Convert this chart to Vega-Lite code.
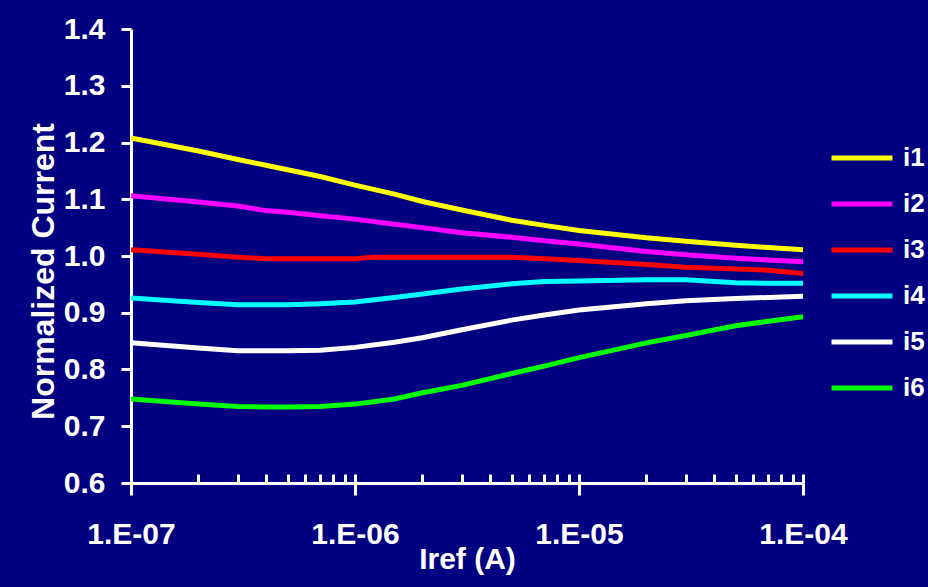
{
  "$schema": "https://vega.github.io/schema/vega-lite/v6.json",
  "width": 672,
  "height": 454,
  "autosize": {"type": "none"},
  "padding": {"left": 131, "top": 29, "right": 125, "bottom": 104},
  "background": "#000080",
  "config": {
    "view": {"stroke": null},
    "font": "Liberation Sans",
    "axis": {
      "grid": false,
      "domainColor": "white",
      "domainWidth": 3,
      "tickColor": "white",
      "tickWidth": 3,
      "labelColor": "white",
      "titleColor": "white",
      "labelFont": "Liberation Sans",
      "titleFont": "Liberation Sans",
      "labelFontWeight": "bold",
      "titleFontWeight": "bold",
      "labelFontSize": 30,
      "titleFontSize": 30,
      "labelFlush": false
    }
  },
  "data": {
    "values": [
      {"x": 1e-7, "s": "i1", "v": 1.208}, {"x": 2e-7, "s": "i1", "v": 1.185}, {"x": 3e-7, "s": "i1", "v": 1.170}, {"x": 4e-7, "s": "i1", "v": 1.160}, {"x": 5e-7, "s": "i1", "v": 1.152}, {"x": 7e-7, "s": "i1", "v": 1.140}, {"x": 1e-6, "s": "i1", "v": 1.125}, {"x": 1.5e-6, "s": "i1", "v": 1.109}, {"x": 2e-6, "s": "i1", "v": 1.096}, {"x": 3e-6, "s": "i1", "v": 1.081}, {"x": 5e-6, "s": "i1", "v": 1.063}, {"x": 7e-6, "s": "i1", "v": 1.054}, {"x": 1e-5, "s": "i1", "v": 1.045}, {"x": 2e-5, "s": "i1", "v": 1.032}, {"x": 3e-5, "s": "i1", "v": 1.026}, {"x": 5e-5, "s": "i1", "v": 1.019}, {"x": 7e-5, "s": "i1", "v": 1.015}, {"x": 1e-4, "s": "i1", "v": 1.011},
      {"x": 1e-7, "s": "i2", "v": 1.106}, {"x": 2e-7, "s": "i2", "v": 1.095}, {"x": 3e-7, "s": "i2", "v": 1.088}, {"x": 4e-7, "s": "i2", "v": 1.080}, {"x": 5e-7, "s": "i2", "v": 1.077}, {"x": 7e-7, "s": "i2", "v": 1.071}, {"x": 1e-6, "s": "i2", "v": 1.065}, {"x": 1.5e-6, "s": "i2", "v": 1.056}, {"x": 2e-6, "s": "i2", "v": 1.050}, {"x": 3e-6, "s": "i2", "v": 1.041}, {"x": 5e-6, "s": "i2", "v": 1.033}, {"x": 7e-6, "s": "i2", "v": 1.027}, {"x": 1e-5, "s": "i2", "v": 1.021}, {"x": 2e-5, "s": "i2", "v": 1.008}, {"x": 3e-5, "s": "i2", "v": 1.002}, {"x": 5e-5, "s": "i2", "v": 0.996}, {"x": 7e-5, "s": "i2", "v": 0.993}, {"x": 1e-4, "s": "i2", "v": 0.990},
      {"x": 1e-7, "s": "i3", "v": 1.011}, {"x": 2e-7, "s": "i3", "v": 1.003}, {"x": 3e-7, "s": "i3", "v": 0.998}, {"x": 4e-7, "s": "i3", "v": 0.995}, {"x": 5e-7, "s": "i3", "v": 0.995}, {"x": 7e-7, "s": "i3", "v": 0.995}, {"x": 1e-6, "s": "i3", "v": 0.995}, {"x": 1.2e-6, "s": "i3", "v": 0.998}, {"x": 2e-6, "s": "i3", "v": 0.998}, {"x": 3e-6, "s": "i3", "v": 0.998}, {"x": 5e-6, "s": "i3", "v": 0.998}, {"x": 7e-6, "s": "i3", "v": 0.995}, {"x": 1e-5, "s": "i3", "v": 0.992}, {"x": 2e-5, "s": "i3", "v": 0.985}, {"x": 3e-5, "s": "i3", "v": 0.980}, {"x": 5e-5, "s": "i3", "v": 0.977}, {"x": 7e-5, "s": "i3", "v": 0.975}, {"x": 1e-4, "s": "i3", "v": 0.969},
      {"x": 1e-7, "s": "i4", "v": 0.926}, {"x": 2e-7, "s": "i4", "v": 0.918}, {"x": 3e-7, "s": "i4", "v": 0.914}, {"x": 4e-7, "s": "i4", "v": 0.914}, {"x": 5e-7, "s": "i4", "v": 0.914}, {"x": 7e-7, "s": "i4", "v": 0.916}, {"x": 1e-6, "s": "i4", "v": 0.919}, {"x": 1.5e-6, "s": "i4", "v": 0.927}, {"x": 2e-6, "s": "i4", "v": 0.933}, {"x": 3e-6, "s": "i4", "v": 0.942}, {"x": 5e-6, "s": "i4", "v": 0.951}, {"x": 7e-6, "s": "i4", "v": 0.955}, {"x": 1e-5, "s": "i4", "v": 0.956}, {"x": 2e-5, "s": "i4", "v": 0.958}, {"x": 3e-5, "s": "i4", "v": 0.958}, {"x": 5e-5, "s": "i4", "v": 0.953}, {"x": 7e-5, "s": "i4", "v": 0.952}, {"x": 1e-4, "s": "i4", "v": 0.952},
      {"x": 1e-7, "s": "i5", "v": 0.847}, {"x": 2e-7, "s": "i5", "v": 0.838}, {"x": 3e-7, "s": "i5", "v": 0.833}, {"x": 4e-7, "s": "i5", "v": 0.833}, {"x": 5e-7, "s": "i5", "v": 0.833}, {"x": 7e-7, "s": "i5", "v": 0.834}, {"x": 1e-6, "s": "i5", "v": 0.839}, {"x": 1.5e-6, "s": "i5", "v": 0.848}, {"x": 2e-6, "s": "i5", "v": 0.856}, {"x": 3e-6, "s": "i5", "v": 0.870}, {"x": 5e-6, "s": "i5", "v": 0.887}, {"x": 7e-6, "s": "i5", "v": 0.896}, {"x": 1e-5, "s": "i5", "v": 0.905}, {"x": 2e-5, "s": "i5", "v": 0.916}, {"x": 3e-5, "s": "i5", "v": 0.921}, {"x": 5e-5, "s": "i5", "v": 0.925}, {"x": 7e-5, "s": "i5", "v": 0.927}, {"x": 1e-4, "s": "i5", "v": 0.929},
      {"x": 1e-7, "s": "i6", "v": 0.748}, {"x": 2e-7, "s": "i6", "v": 0.739}, {"x": 3e-7, "s": "i6", "v": 0.735}, {"x": 4e-7, "s": "i6", "v": 0.734}, {"x": 5e-7, "s": "i6", "v": 0.734}, {"x": 7e-7, "s": "i6", "v": 0.735}, {"x": 1e-6, "s": "i6", "v": 0.739}, {"x": 1.5e-6, "s": "i6", "v": 0.748}, {"x": 2e-6, "s": "i6", "v": 0.759}, {"x": 3e-6, "s": "i6", "v": 0.772}, {"x": 5e-6, "s": "i6", "v": 0.793}, {"x": 7e-6, "s": "i6", "v": 0.806}, {"x": 1e-5, "s": "i6", "v": 0.821}, {"x": 2e-5, "s": "i6", "v": 0.847}, {"x": 3e-5, "s": "i6", "v": 0.860}, {"x": 5e-5, "s": "i6", "v": 0.877}, {"x": 7e-5, "s": "i6", "v": 0.885}, {"x": 1e-4, "s": "i6", "v": 0.893}
    ]
  },
  "layer": [
    {
      "mark": {"type": "line", "strokeWidth": 5},
      "encoding": {
        "x": {
          "field": "x", "type": "quantitative",
          "scale": {"type": "log", "domain": [1e-7, 1e-4]},
          "axis": {
            "orient": "bottom",
            "values": [1e-7, 1e-6, 1e-5, 1e-4],
            "tickSize": 12,
            "labelPadding": 24,
            "labelExpr": "'1.E-0' + round(-log(datum.value)/LN10)",
            "title": "Iref (A)",
            "titlePadding": -5
          }
        },
        "y": {
          "field": "v", "type": "quantitative",
          "scale": {"domain": [0.6, 1.4]},
          "axis": {
            "values": [0.6, 0.7, 0.8, 0.9, 1.0, 1.1, 1.2, 1.3, 1.4],
            "format": ".1f",
            "tickSize": 10,
            "labelPadding": 16,
            "title": "Normalized Current",
            "titleFontSize": 32,
            "titleY": 242,
            "titlePadding": 3
          }
        },
        "color": {
          "field": "s", "type": "nominal",
          "scale": {"domain": ["i1", "i2", "i3", "i4", "i5", "i6"], "range": ["#FFFF00", "#FF00FF", "#FF0000", "#00FFFF", "#FFFFFF", "#00FF00"]},
          "legend": {
            "orient": "none",
            "legendX": 698,
            "legendY": 96,
            "title": null,
            "padding": 0,
            "symbolType": "stroke",
            "symbolSize": 3721,
            "symbolStrokeWidth": 5,
            "labelFont": "Liberation Sans",
            "labelFontSize": 26,
            "labelFontWeight": "bold",
            "labelColor": "white",
            "labelOffset": 8,
            "rowPadding": 0
          }
        }
      }
    },
    {
      "mark": {"type": "rule", "strokeOpacity": 0},
      "encoding": {
        "x": {
          "field": "x", "type": "quantitative",
          "axis": {
            "orient": "bottom",
            "values": [1e-7, 2e-7, 3e-7, 4e-7, 5e-7, 6e-7, 7e-7, 8e-7, 9e-7, 1e-6, 2e-6, 3e-6, 4e-6, 5e-6, 6e-6, 7e-6, 8e-6, 9e-6, 1e-5, 2e-5, 3e-5, 4e-5, 5e-5, 6e-5, 7e-5, 8e-5, 9e-5, 1e-4],
            "tickSize": -9,
            "labels": false,
            "domain": false,
            "title": null
          }
        }
      }
    }
  ],
  "resolve": {"axis": {"x": "independent"}}
}
